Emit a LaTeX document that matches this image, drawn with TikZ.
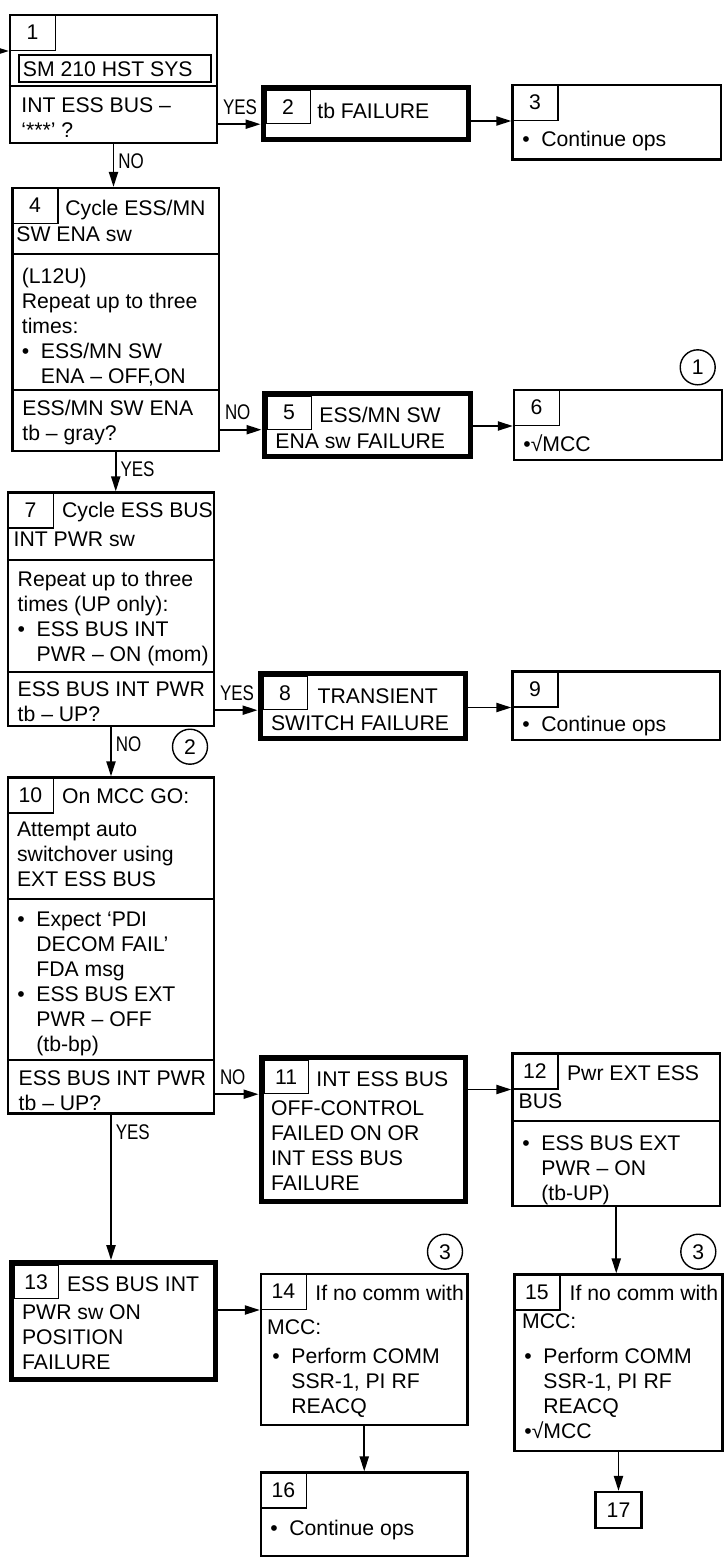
\documentclass[tikz,border=0pt]{standalone}
\usepackage{fontspec}
\setmainfont{Liberation Sans}
\newfontfamily\lblfont[FakeStretch=0.8]{Liberation Sans}
\usetikzlibrary{arrows.meta,positioning,calc,fit}
\newcommand\bul{\makebox[9.5pt][l]{•}}
\newcommand\bind{\hspace*{9.5pt}}
\tikzset{box/.style={draw,line width=1.2pt,inner sep=0pt},
  failbox/.style={draw,line width=2.5pt,inner sep=0pt},
  numbox/.style={draw,line width=0.6pt,anchor=north west,inner sep=0pt,
    minimum width=23pt,minimum height=18pt},
  innum/.style={numbox,minimum width=22pt,minimum height=16.5pt,xshift=2.5pt,yshift=-2.5pt},
  txt/.style={anchor=base west,inner sep=0pt,align=left},
  rule/.style={line width=1pt},
  flow/.style={-{Triangle[length=7.5pt,width=4.6pt]},line width=0.8pt},
  lbl/.style={font=\lblfont\fontsize{10.6}{12}\selectfont,inner xsep=2pt,inner ysep=4.5pt},
  refmark/.style={draw,circle,line width=0.7pt,minimum size=17.5pt,inner sep=0pt}}

\begin{document}
\begin{tikzpicture}[x=0.5pt,y=-0.5pt,font=\fontsize{10.6}{12.5}\selectfont]
\useasboundingbox (0,0) rectangle (727,1564);
% left column (multi-line texts sit on their last baseline)
\node[box,fit={(10,15) (217,143)}] (s1) {};
\node[numbox] (n1) at (s1.north west) {1};
\node[draw,line width=1pt,inner sep=0pt,fit={(19,54.5) (211,81.5)}] (sys) {};
\node[txt] (t1a) at (22.5,76.5) {SM 210 HST SYS};
\node[txt] (t1b) at (21,137) {INT ESS BUS –\\‘***’ ?};
\node[box,fit={(12.5,188) (219,451)}] (s4) {};
\node[numbox] (n4) at (s4.north west) {4};
\node[txt] (t4a) at (65,215) {Cycle ESS/MN};
\node[txt] (t4b) at (16,241.7) {SW ENA sw};
\node[txt] (t4c) at (21.5,383) {(L12U)\\Repeat up to three\\times:\\\bul ESS/MN SW\\\bind ENA – OFF,ON};
\node[txt] (t4d) at (22,440) {ESS/MN SW ENA\\tb – gray?};
\node[box,fit={(8,492.5) (214,726)}] (s7) {};
\node[numbox] (n7) at (s7.north west) {7};
\node[txt] (t7a) at (61.7,517.3) {Cycle ESS BUS};
\node[txt] (t7b) at (13.3,546.7) {INT PWR sw};
\node[txt] (t7c) at (17.3,661.7) {Repeat up to three\\times (UP only):\\\bul ESS BUS INT\\\bind PWR – ON (mom)};
\node[txt] (t7d) at (17.3,721.7) {ESS BUS INT PWR\\tb – UP?};
\node[refmark] (c2) at (190,746.7) {2};
\node[box,fit={(8,777.5) (214,1113.5)}] (s10) {};
\node[numbox] (n10) at (s10.north west) {10};
\node[txt] (t10a) at (61.7,803) {On MCC GO:};
\node[txt] (t10b) at (16.7,886.7) {Attempt auto\\switchover using\\EXT ESS BUS};
\node[txt] (t10c) at (17,1051.7) {\bul Expect ‘PDI\\\bind DECOM FAIL’\\\bind FDA msg\\\bul ESS BUS EXT\\\bind PWR – OFF\\\bind (tb-bp)};
\node[txt] (t10d) at (18.3,1110) {ESS BUS INT PWR\\tb – UP?};
\node[failbox,fit={(11,1262.5) (215.5,1379.5)}] (s13) {};
\node[innum] (n13) at (s13.north west) {13};
\node[txt] (t13a) at (66.7,1291.7) {ESS BUS INT};
\node[txt] (t13b) at (21.7,1369.3) {PWR sw ON\\POSITION\\FAILURE};
% middle column
\node[failbox,fit={(263,87.5) (468,139.5)}] (s2) {};
\node[innum] (n2) at (s2.north west) {2};
\node[txt] (t2) at (317,118) {tb FAILURE};
\node[failbox,fit={(264,393) (470,456.5)}] (s5) {};
\node[innum] (n5) at (s5.north west) {5};
\node[txt] (t5a) at (319,422.7) {ESS/MN SW};
\node[txt] (t5b) at (275,448) {ENA sw FAILURE};
\node[failbox,fit={(260,673.5) (465.5,738)}] (s8) {};
\node[innum] (n8) at (s8.north west) {8};
\node[txt] (t8a) at (317.3,703.3) {TRANSIENT};
\node[txt] (t8b) at (270.7,730) {SWITCH FAILURE};
\node[failbox,fit={(261,1057.5) (465.5,1201)}] (s11) {};
\node[innum] (n11) at (s11.north west) {11};
\node[txt] (t11a) at (316,1086.7) {INT ESS BUS};
\node[txt] (t11b) at (270.7,1190) {OFF-CONTROL\\FAILED ON OR\\INT ESS BUS\\FAILURE};
\node[refmark] (c3) at (445,1251.7) {3};
\node[box,fit={(261,1274) (467.5,1425)}] (s14) {};
\node[numbox] (n14) at (s14.north west) {14};
\node[txt] (t14a) at (315,1300) {If no comm with};
\node[txt] (t14b) at (266.7,1334) {MCC:};
\node[txt] (t14c) at (272,1413) {\bul Perform COMM\\\bind SSR-1, PI RF\\\bind REACQ};
\node[box,fit={(261,1472.5) (467.5,1556)}] (s16) {};
\node[numbox] (n16) at (s16.north west) {16};
\node[txt] (t16) at (270,1535) {\bul Continue ops};
% right column
\node[box,fit={(512.5,85) (721,159.5)}] (s3) {};
\node[numbox] (n3) at (s3.north west) {3};
\node[txt] (t3) at (522,146.7) {\bul Continue ops};
\node[refmark] (c1) at (697.7,367.3) {1};
\node[box,fit={(514,390) (722,460)}] (s6) {};
\node[numbox] (n6) at (s6.north west) {6};
\node[txt] (t6) at (523,451.7) {•√MCC};
\node[box,fit={(512.5,671.5) (720,740)}] (s9) {};
\node[numbox] (n9) at (s9.north west) {9};
\node[txt] (t9) at (522,731.7) {\bul Continue ops};
\node[box,fit={(512.5,1053.5) (720,1206)}] (s12) {};
\node[numbox] (n12) at (s12.north west) {12};
\node[txt] (t12a) at (566.7,1080) {Pwr EXT ESS};
\node[txt] (t12b) at (518.3,1108.3) {BUS};
\node[txt] (t12c) at (522,1200) {\bul ESS BUS EXT\\\bind PWR – ON\\\bind (tb-UP)};
\node[refmark] (c3b) at (698.3,1251.7) {3};
\node[box,fit={(514.5,1274.5) (722.5,1451)}] (s15) {};
\node[numbox] (n15) at (s15.north west) {15};
\node[txt] (t15a) at (569.3,1300) {If no comm with};
\node[txt] (t15b) at (521.7,1328.3) {MCC:};
\node[txt] (t15c) at (524,1438.3) {\bul Perform COMM\\\bind SSR-1, PI RF\\\bind REACQ\\•√MCC};
\node[box,minimum width=23pt,minimum height=18pt] (s17) at (618.5,1510) {17};
% dividers
\foreach \b/\y in {s1/86,s4/254.3,s4/390,s7/560,s7/671.7,s10/899.3,s10/1060,s12/1120.7}
  \draw[rule] (\b.west |- 0,\y) -- (\b.east |- 0,\y);
% connectors
\coordinate (entry) at (0,51);
\draw[flow] (entry) -- (s1.west |- n1.south);
\draw[flow] (s1.east |- n2.south) -- (s2.west |- n2.south) node[lbl,pos=0,anchor=south west] {YES};
\draw[flow] (s2.east |- n3.south) -- (s3.west |- n3.south);
\draw[flow] (s1.south) -- (s1.south |- s4.north) node[lbl,pos=0,anchor=north west] {NO};
\draw[flow] (s4.east |- n5.south) -- (s5.west |- n5.south) node[lbl,pos=0,anchor=south west] {NO};
\draw[flow] (s5.east |- n6.south) -- (s6.west |- n6.south);
\draw[flow] (s4.south) -- (s4.south |- s7.north) node[lbl,pos=0,anchor=north west] {YES};
\draw[flow] (s7.east |- n8.south) -- (s8.west |- n8.south) node[lbl,pos=0,anchor=south west] {YES};
\draw[flow] (s8.east |- n9.south) -- (s9.west |- n9.south);
\draw[flow] (s7.south) -- (s7.south |- s10.north) node[lbl,pos=0,anchor=north west] {NO};
\draw[flow] (s10.east |- n11.south) -- (s11.west |- n11.south) node[lbl,pos=0,anchor=south west] {NO};
\draw[flow] (s11.east |- n12.south) -- (s12.west |- n12.south);
\draw[flow] (s10.south) -- (s10.south |- s13.north) node[lbl,pos=0,anchor=north west] {YES};
\draw[flow] (s13.east |- n14.south) -- (s14.west |- n14.south);
\draw[flow] (s14.south) -- (s14.south |- s16.north);
\draw[flow] (s12.south) -- (s12.south |- s15.north);
\draw[flow] (s15.south) -- (s15.south |- s17.north);
\end{tikzpicture}
\end{document}
